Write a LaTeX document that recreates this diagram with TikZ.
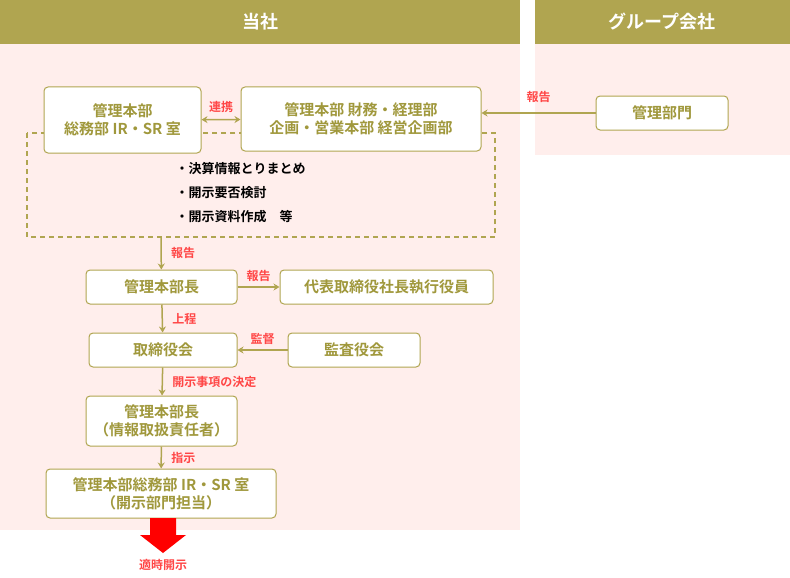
\documentclass[tikz,border=0pt]{standalone}
\usepackage{fontspec}
\setmainfont{Noto Sans CJK JP}[BoldFont={Noto Sans CJK JP Bold}]
\usetikzlibrary{arrows.meta,positioning}
\definecolor{olive}{RGB}{176,165,80}
\definecolor{olivetext}{RGB}{160,152,60}
\definecolor{pinkbg}{RGB}{255,238,236}
\definecolor{lblred}{RGB}{255,70,70}
\tikzset{
  orgbox/.style={draw=olive,line width=1pt,fill=white,rounded corners=4pt,align=center,
    text=olivetext,font=\fontsize{15}{18}\selectfont\bfseries,inner sep=0pt},
  lbl/.style={text=lblred,font=\fontsize{12}{14}\selectfont\bfseries},
  flow/.style={draw=olive,line width=1.5pt,-{Stealth[length=6pt,width=7pt]}},
}
\begin{document}
\begin{tikzpicture}[x=1pt,y=-1pt]
\useasboundingbox (0,0) rectangle (790,578);
% headers and backgrounds
\fill[pinkbg] (0,44) rectangle (520,530);
\fill[pinkbg] (535,44) rectangle (790,155);
\fill[olive] (0,0) rectangle (520,44);
\fill[olive] (535,0) rectangle (790,44);
\node[text=white,font=\fontsize{18}{20}\selectfont\bfseries] (hdrA) at (260,22) {当社};
\node[text=white,font=\fontsize{18}{20}\selectfont\bfseries] (hdrB) at (662,22) {グループ会社};

% dashed work area
\draw[olive,line width=1.5pt,dash pattern=on 5pt off 4pt] (27,133) rectangle (495,237);
\coordinate (areaS) at (161,237);
\node[anchor=west,font=\fontsize{13}{24}\selectfont\bfseries,align=left] (tasks) at (172,193)
  {・決算情報とりまとめ\\・開示要否検討\\・開示資料作成　等};

% boxes
\node[orgbox,minimum width=157pt,minimum height=66pt] (soumu) at (122.5,120) {管理本部\\総務部 IR・SR 室};
\node[orgbox,minimum width=240pt,minimum height=64pt] (zaimu) at (361,119) {管理本部 財務・経理部\\企画・営業本部 経営企画部};
\node[orgbox,minimum width=132pt,minimum height=34pt] (group) at (662,113) {管理部門};
\node[orgbox,minimum width=151pt,minimum height=34pt] (head) at (161.5,287) {管理本部長};
\node[orgbox,minimum width=213pt,minimum height=34pt] (ceo) at (386.5,287) {代表取締役社長執行役員};
\node[orgbox,minimum width=148pt,minimum height=34pt] (board) at (163,350) {取締役会};
\node[orgbox,minimum width=132pt,minimum height=34pt] (audit) at (354,350) {監査役会};
\node[orgbox,minimum width=151pt,minimum height=50pt] (head2) at (161.5,421) {管理本部長\\（情報取扱責任者）};
\node[orgbox,minimum width=230pt,minimum height=49pt] (irsr) at (161,493.5) {管理本部総務部 IR・SR 室\\（開示部門担当）};

% connectors
\draw[olive,line width=1.5pt,{Stealth[length=6pt,width=7pt]}-{Stealth[length=6pt,width=7pt]}] (soumu) -- (zaimu) node[lbl,midway,above=3pt] {連携};
\draw[flow] (group) -- (zaimu.east|-group) node[lbl,midway,above=6pt] {報告};
\draw[flow] (areaS) -- (head) node[lbl,midway,right=6pt] {報告};
\draw[flow] (head) -- (ceo) node[lbl,midway,above=1pt] {報告};
\draw[flow] (head) -- (board) node[lbl,midway,right=6pt] {上程};
\draw[flow] (audit) -- (board) node[lbl,midway,above=1pt] {監督};
\draw[flow] (board) -- (head2) node[lbl,midway,right=6pt] {開示事項の決定};
\draw[flow] (head2) -- (irsr) node[lbl,midway,right=6pt] {指示};

% disclosure arrow
\fill[red] (150,518) -- (176,518) -- (176,535) -- (186,535) -- (163,553) -- (140,535) -- (150,535) -- cycle;
\node[lbl] (tekiji) at (163,565) {適時開示};
\end{tikzpicture}
\end{document}
